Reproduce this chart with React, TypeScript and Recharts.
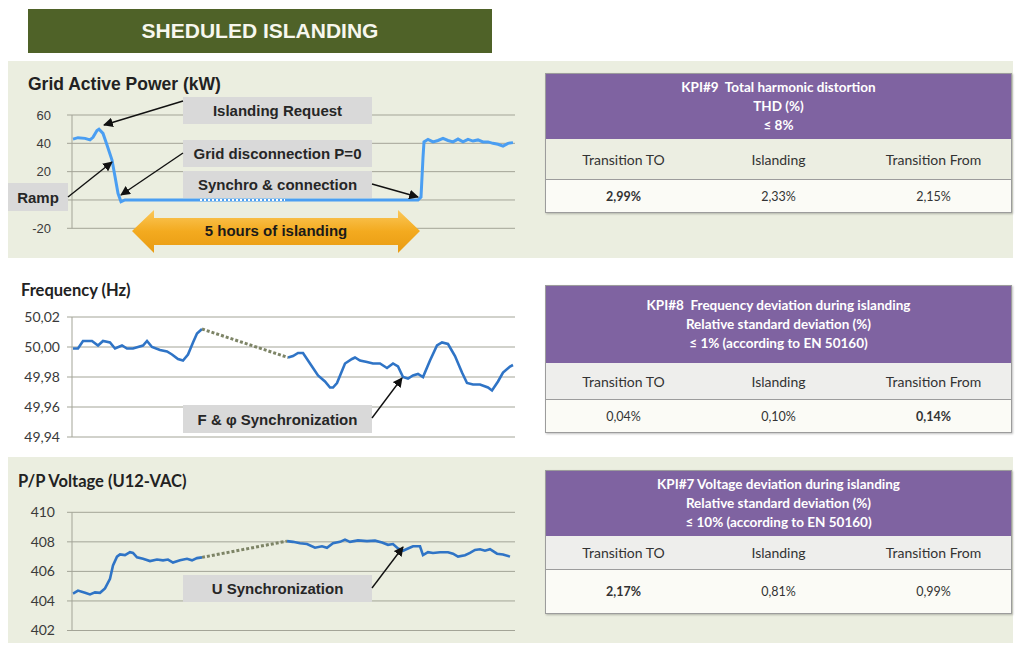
import { CartesianGrid, Line, LineChart, XAxis, YAxis } from "recharts";

// sample index along the time axis (0..443) and values
const powerT = [1, 6, 13, 18, 21, 25, 27, 31, 35, 40, 43, 46, 49, 53, 128, 213, 346, 349, 351, 352, 356, 361, 366, 371, 376, 381, 386, 391, 396, 401, 406, 411, 416, 421, 426, 431, 436, 441];
const powerKw = [43, 44, 43.5, 42.4, 44.2, 49, 50, 47, 38.8, 28.2, 16.5, 4.7, -1.2, 0, 0, 0, 0, 2, 30, 41, 42.8, 41, 42, 43.5, 42, 41, 43, 41, 42.8, 41.6, 42.4, 41, 41, 40, 39.3, 38, 40, 40.5];
const powerGapT = [128, 213];
const powerGapKw = [0, 0];
const powerTicks = [-20, 0, 20, 40, 60];

const freqT = [1, 6, 11, 20, 26, 31, 38, 43, 50, 55, 61, 66, 71, 75, 80, 88, 95, 100, 106, 111, 116, 121, 125, 130, 216, 221, 226, 231, 238, 246, 253, 258, 261, 265, 273, 280, 283, 288, 295, 301, 308, 315, 321, 326, 331, 336, 341, 346, 351, 358, 365, 370, 376, 383, 390, 395, 401, 408, 416, 420, 426, 431, 438, 441];
const freqHz = [49.999, 49.999, 50.004, 50.004, 50.001, 50.004, 50.003, 49.999, 50.001, 49.999, 49.999, 50.0, 50.001, 50.004, 50.0, 49.998, 49.997, 49.995, 49.992, 49.991, 49.995, 50.003, 50.009, 50.012, 49.993, 49.994, 49.996, 49.996, 49.989, 49.981, 49.977, 49.973, 49.973, 49.976, 49.989, 49.992, 49.993, 49.991, 49.99, 49.989, 49.989, 49.986, 49.989, 49.987, 49.98, 49.979, 49.981, 49.982, 49.98, 49.991, 50.001, 50.003, 50.002, 49.994, 49.983, 49.976, 49.975, 49.975, 49.973, 49.971, 49.977, 49.983, 49.987, 49.988];
const freqGapT = [130, 216];
const freqGapHz = [50.012, 49.993];
const freqTicks = [49.94, 49.96, 49.98, 50.0, 50.02];

const voltT = [1, 6, 13, 18, 23, 28, 33, 38, 41, 45, 48, 53, 58, 61, 65, 71, 78, 85, 91, 96, 101, 108, 115, 120, 125, 130, 215, 221, 228, 235, 243, 250, 255, 261, 268, 273, 278, 286, 295, 303, 310, 316, 321, 326, 331, 336, 341, 348, 351, 356, 361, 368, 376, 381, 386, 393, 398, 403, 408, 413, 418, 425, 431, 438];
const voltV = [404.5, 404.7, 404.55, 404.44, 404.58, 404.55, 404.85, 405.5, 406.4, 407.0, 407.15, 407.1, 407.3, 407.25, 406.95, 406.85, 406.7, 406.8, 406.75, 406.8, 406.6, 406.75, 406.85, 406.75, 406.9, 406.95, 408.05, 408.0, 407.9, 407.85, 407.6, 407.7, 407.6, 407.9, 408.0, 408.15, 408.0, 408.1, 408.05, 408.08, 407.95, 407.8, 407.85, 407.55, 407.4, 407.55, 407.7, 407.7, 407.1, 407.3, 407.25, 407.3, 407.3, 407.2, 407.0, 407.1, 407.25, 407.45, 407.5, 407.4, 407.5, 407.2, 407.15, 407.0];
const voltGapT = [130, 215];
const voltGapV = [406.95, 408.05];
const voltTicks = [402, 404, 406, 408, 410];

const kpiColumns = ["Transition TO", "Islanding", "Transition From"];
const kpi9Header = ["KPI#9  Total harmonic distortion", "THD (%)", "≤ 8%"];
const kpi9Values = ["2,99%", "2,33%", "2,15%"];
const kpi8Header = ["KPI#8  Frequency deviation during islanding", "Relative standard deviation (%)", "≤ 1% (according to EN 50160)"];
const kpi8Values = ["0,04%", "0,10%", "0,14%"];
const kpi7Header = ["KPI#7 Voltage deviation during islanding", "Relative standard deviation (%)", "≤ 10% (according to EN 50160)"];
const kpi7Values = ["2,17%", "0,81%", "0,99%"];

type Row = { t: number; v: number | null; g?: number };

function buildRows(t: number[], v: number[], gt: number[], gv: number[], breakGap: boolean): Row[] {
  const rows: Row[] = t.map((x, i) => ({ t: x, v: v[i] }));
  gt.forEach((x, i) => {
    const r = rows.find((row) => row.t === x);
    if (r) r.g = gv[i];
  });
  if (breakGap) rows.push({ t: (gt[0] + gt[1]) / 2, v: null });
  return rows.sort((a, b) => a.t - b.t);
}

const ARIAL = "'Liberation Sans', Arial, sans-serif";
const CALIBRI = "Lato, 'Open Sans', sans-serif";
const GRID = "#a3a497";

type PanelProps = {
  top: number;
  height: number;
  marginTop: number;
  marginBottom: number;
  rows: Row[];
  domain: [number, number];
  ticks: number[];
  fmt: (v: number) => string;
  tickFont: string;
  tickSize: number;
  tickMargin: number;
  color: string;
  width: number;
  gapColor: string;
  gapDash: string;
  gapWidth: number;
};

function Panel(p: PanelProps) {
  return (
    <div style={{ position: "absolute", left: 0, top: p.top }}>
      <LineChart
        width={520}
        height={p.height}
        data={p.rows}
        margin={{ top: p.marginTop, right: 5, bottom: p.marginBottom, left: 0 }}
      >
        <CartesianGrid vertical={false} stroke={GRID} />
        <XAxis type="number" dataKey="t" domain={[0, 443]} hide />
        <YAxis
          type="number"
          domain={p.domain}
          ticks={p.ticks}
          width={72}
          tickFormatter={p.fmt}
          tickSize={5}
          tickMargin={p.tickMargin}
          axisLine={{ stroke: GRID }}
          tickLine={{ stroke: GRID }}
          tick={{ fontFamily: p.tickFont, fontSize: p.tickSize, fill: "#3a3a3a" }}
        />
        <Line
          dataKey="v"
          stroke={p.color}
          strokeWidth={p.width}
          dot={false}
          connectNulls={false}
          isAnimationActive={false}
        />
        <Line
          dataKey="g"
          stroke={p.gapColor}
          strokeWidth={p.gapWidth}
          strokeDasharray={p.gapDash}
          dot={false}
          connectNulls
          isAnimationActive={false}
        />
      </LineChart>
    </div>
  );
}

function Label({ x, y, w, h, text, size = 15 }: { x: number; y: number; w: number; h: number; text: string; size?: number }) {
  return (
    <div
      style={{
        position: "absolute",
        left: x,
        top: y,
        width: w,
        height: h,
        background: "#d9d9d9",
        display: "flex",
        alignItems: "center",
        justifyContent: "center",
        fontFamily: ARIAL,
        fontWeight: 700,
        fontSize: size,
        color: "#262626",
        whiteSpace: "nowrap",
      }}
    >
      {text}
    </div>
  );
}

function KpiTable({
  top,
  headH,
  row1H,
  row2H,
  header,
  values,
  boldIdx,
  row1Bg,
}: {
  top: number;
  headH: number;
  row1H: number;
  row2H: number;
  header: string[];
  values: string[];
  boldIdx: number;
  row1Bg: string;
}) {
  const cell = (h: number): React.CSSProperties => ({
    display: "flex",
    height: h,
    alignItems: "center",
  });
  return (
    <div
      style={{
        position: "absolute",
        left: 545,
        top,
        width: 467,
        border: "1px solid #9c9c9c",
        boxShadow: "1px 1px 2px rgba(0,0,0,0.25)",
        fontFamily: CALIBRI,
        boxSizing: "border-box",
      }}
    >
      <div
        style={{
          height: headH,
          background: "#7f63a1",
          color: "#fff",
          fontWeight: 700,
          fontSize: 13.5,
          lineHeight: "19px",
          textAlign: "center",
          whiteSpace: "pre",
          display: "flex",
          flexDirection: "column",
          justifyContent: "center",
        }}
      >
        {header.map((l) => (
          <div key={l}>{l}</div>
        ))}
      </div>
      <div style={{ ...cell(row1H), background: row1Bg, borderBottom: "1px solid #9c9c9c" }}>
        {kpiColumns.map((c) => (
          <div key={c} style={{ flex: 1, textAlign: "center", fontSize: 14, color: "#333" }}>
            {c}
          </div>
        ))}
      </div>
      <div style={{ ...cell(row2H), background: "#fbfbf6" }}>
        {values.map((v, i) => (
          <div
            key={v + i}
            style={{ flex: 1, textAlign: "center", fontSize: 12.5, color: "#333", fontWeight: i === boldIdx ? 700 : 400 }}
          >
            {v}
          </div>
        ))}
      </div>
    </div>
  );
}

const comma = (v: number) => v.toFixed(2).replace(".", ",");
// the 0 label sits under the "Ramp" box in the original
const powerFmt = (v: number) => (v === 0 ? "" : String(v));

export default function App() {
  const powerRows = buildRows(powerT, powerKw, powerGapT, powerGapKw, false);
  const freqRows = buildRows(freqT, freqHz, freqGapT, freqGapHz, true);
  const voltRows = buildRows(voltT, voltV, voltGapT, voltGapV, true);

  return (
    <div style={{ position: "absolute", left: 0, top: 0, width: 1019, height: 646, background: "#fff", overflow: "hidden" }}>
      {/* banner */}
      <div
        style={{
          position: "absolute",
          left: 28,
          top: 9,
          width: 464,
          height: 44,
          background: "#4f6228",
          color: "#f7f7ee",
          fontFamily: ARIAL,
          fontWeight: 700,
          fontSize: 21,
          display: "flex",
          alignItems: "center",
          justifyContent: "center",
        }}
      >
        SHEDULED ISLANDING
      </div>

      {/* section backgrounds */}
      <div style={{ position: "absolute", left: 8, top: 61, width: 1005, height: 197, background: "#ebeee0" }} />
      <div style={{ position: "absolute", left: 8, top: 457, width: 1005, height: 186, background: "#ebeee0" }} />

      {/* titles */}
      <div style={{ position: "absolute", left: 28, top: 74, fontFamily: ARIAL, fontWeight: 700, fontSize: 17.5, color: "#222" }}>
        Grid Active Power (kW)
      </div>
      <div style={{ position: "absolute", left: 21, top: 280, fontFamily: CALIBRI, fontWeight: 700, fontSize: 16.5, color: "#222" }}>
        Frequency (Hz)
      </div>
      <div style={{ position: "absolute", left: 18, top: 471, fontFamily: CALIBRI, fontWeight: 700, fontSize: 16.5, color: "#222" }}>
        P/P Voltage (U12-VAC)
      </div>

      <Panel
        top={100}
        height={140}
        marginTop={15}
        marginBottom={11.7}
        rows={powerRows}
        domain={[-20, 60]}
        ticks={powerTicks}
        fmt={powerFmt}
        tickFont={ARIAL}
        tickSize={13}
        tickMargin={16}
        color="#4a9ef2"
        width={3}
        gapColor="#ffffff"
        gapDash="2 2"
        gapWidth={2}
      />
      <Panel
        top={305}
        height={140}
        marginTop={12}
        marginBottom={8}
        rows={freqRows}
        domain={[49.94, 50.02]}
        ticks={freqTicks}
        fmt={comma}
        tickFont={CALIBRI}
        tickSize={14}
        tickMargin={7}
        color="#2f74c6"
        width={2.6}
        gapColor="#7d8466"
        gapDash="3 2"
        gapWidth={3}
      />
      <Panel
        top={500}
        height={140}
        marginTop={12.3}
        marginBottom={9.5}
        rows={voltRows}
        domain={[402, 410]}
        ticks={voltTicks}
        fmt={(v) => String(v)}
        tickFont={CALIBRI}
        tickSize={14}
        tickMargin={12}
        color="#2f74c6"
        width={2.6}
        gapColor="#7d8466"
        gapDash="3 2"
        gapWidth={3}
      />

      {/* annotation boxes */}
      <Label x={183} y={97} w={189} h={27} text="Islanding Request" />
      <Label x={183} y={140} w={189} h={27} text="Grid disconnection P=0" />
      <Label x={183} y={171} w={189} h={27} text="Synchro & connection" />
      <Label x={8} y={183} w={60} h={28} text="Ramp" />
      <Label x={183} y={405} w={189} h={28} text="F & φ Synchronization" />
      <Label x={183} y={575} w={189} h={27} text="U Synchronization" />

      <svg width={1019} height={646} style={{ position: "absolute", left: 0, top: 0, pointerEvents: "none" }}>
        <defs>
          <marker id="ah" viewBox="0 0 10 10" refX="9" refY="5" markerWidth="7" markerHeight="7" orient="auto">
            <path d="M0,0 L10,5 L0,10 z" fill="#111" />
          </marker>
          <linearGradient id="og" x1="0" y1="0" x2="0" y2="1">
            <stop offset="0" stopColor="#fbc85a" />
            <stop offset="0.5" stopColor="#f3aa1f" />
            <stop offset="1" stopColor="#e89b12" />
          </linearGradient>
        </defs>
        <g stroke="#111" strokeWidth={1.4} fill="none">
          <line x1={183} y1={101} x2={104} y2={125} markerEnd="url(#ah)" />
          <line x1={183} y1={153} x2={121} y2={195} markerEnd="url(#ah)" />
          <line x1={372} y1={184} x2={418} y2={197} markerEnd="url(#ah)" />
          <line x1={68} y1={197} x2={112} y2={162} markerEnd="url(#ah)" />
          <line x1={372} y1={418} x2={402} y2={378} markerEnd="url(#ah)" />
          <line x1={372} y1={588} x2={403} y2={547} markerEnd="url(#ah)" />
        </g>
        <polygon
          points="132,231 154,210 154,218 398,218 398,210 420,231 398,253 398,245 154,245 154,253"
          fill="url(#og)"
        />
        <text
          x={276}
          y={236}
          textAnchor="middle"
          fontFamily={ARIAL}
          fontWeight={700}
          fontSize={15}
          fill="#1a1a1a"
        >
          5 hours of islanding
        </text>
      </svg>

      <KpiTable top={73} headH={65} row1H={40} row2H={32} header={kpi9Header} values={kpi9Values} boldIdx={0} row1Bg="#eceee2" />
      <KpiTable top={285} headH={77} row1H={36} row2H={32} header={kpi8Header} values={kpi8Values} boldIdx={2} row1Bg="#eeeeec" />
      <KpiTable top={470} headH={65} row1H={33} row2H={43} header={kpi7Header} values={kpi7Values} boldIdx={0} row1Bg="#eeeeec" />
    </div>
  );
}
